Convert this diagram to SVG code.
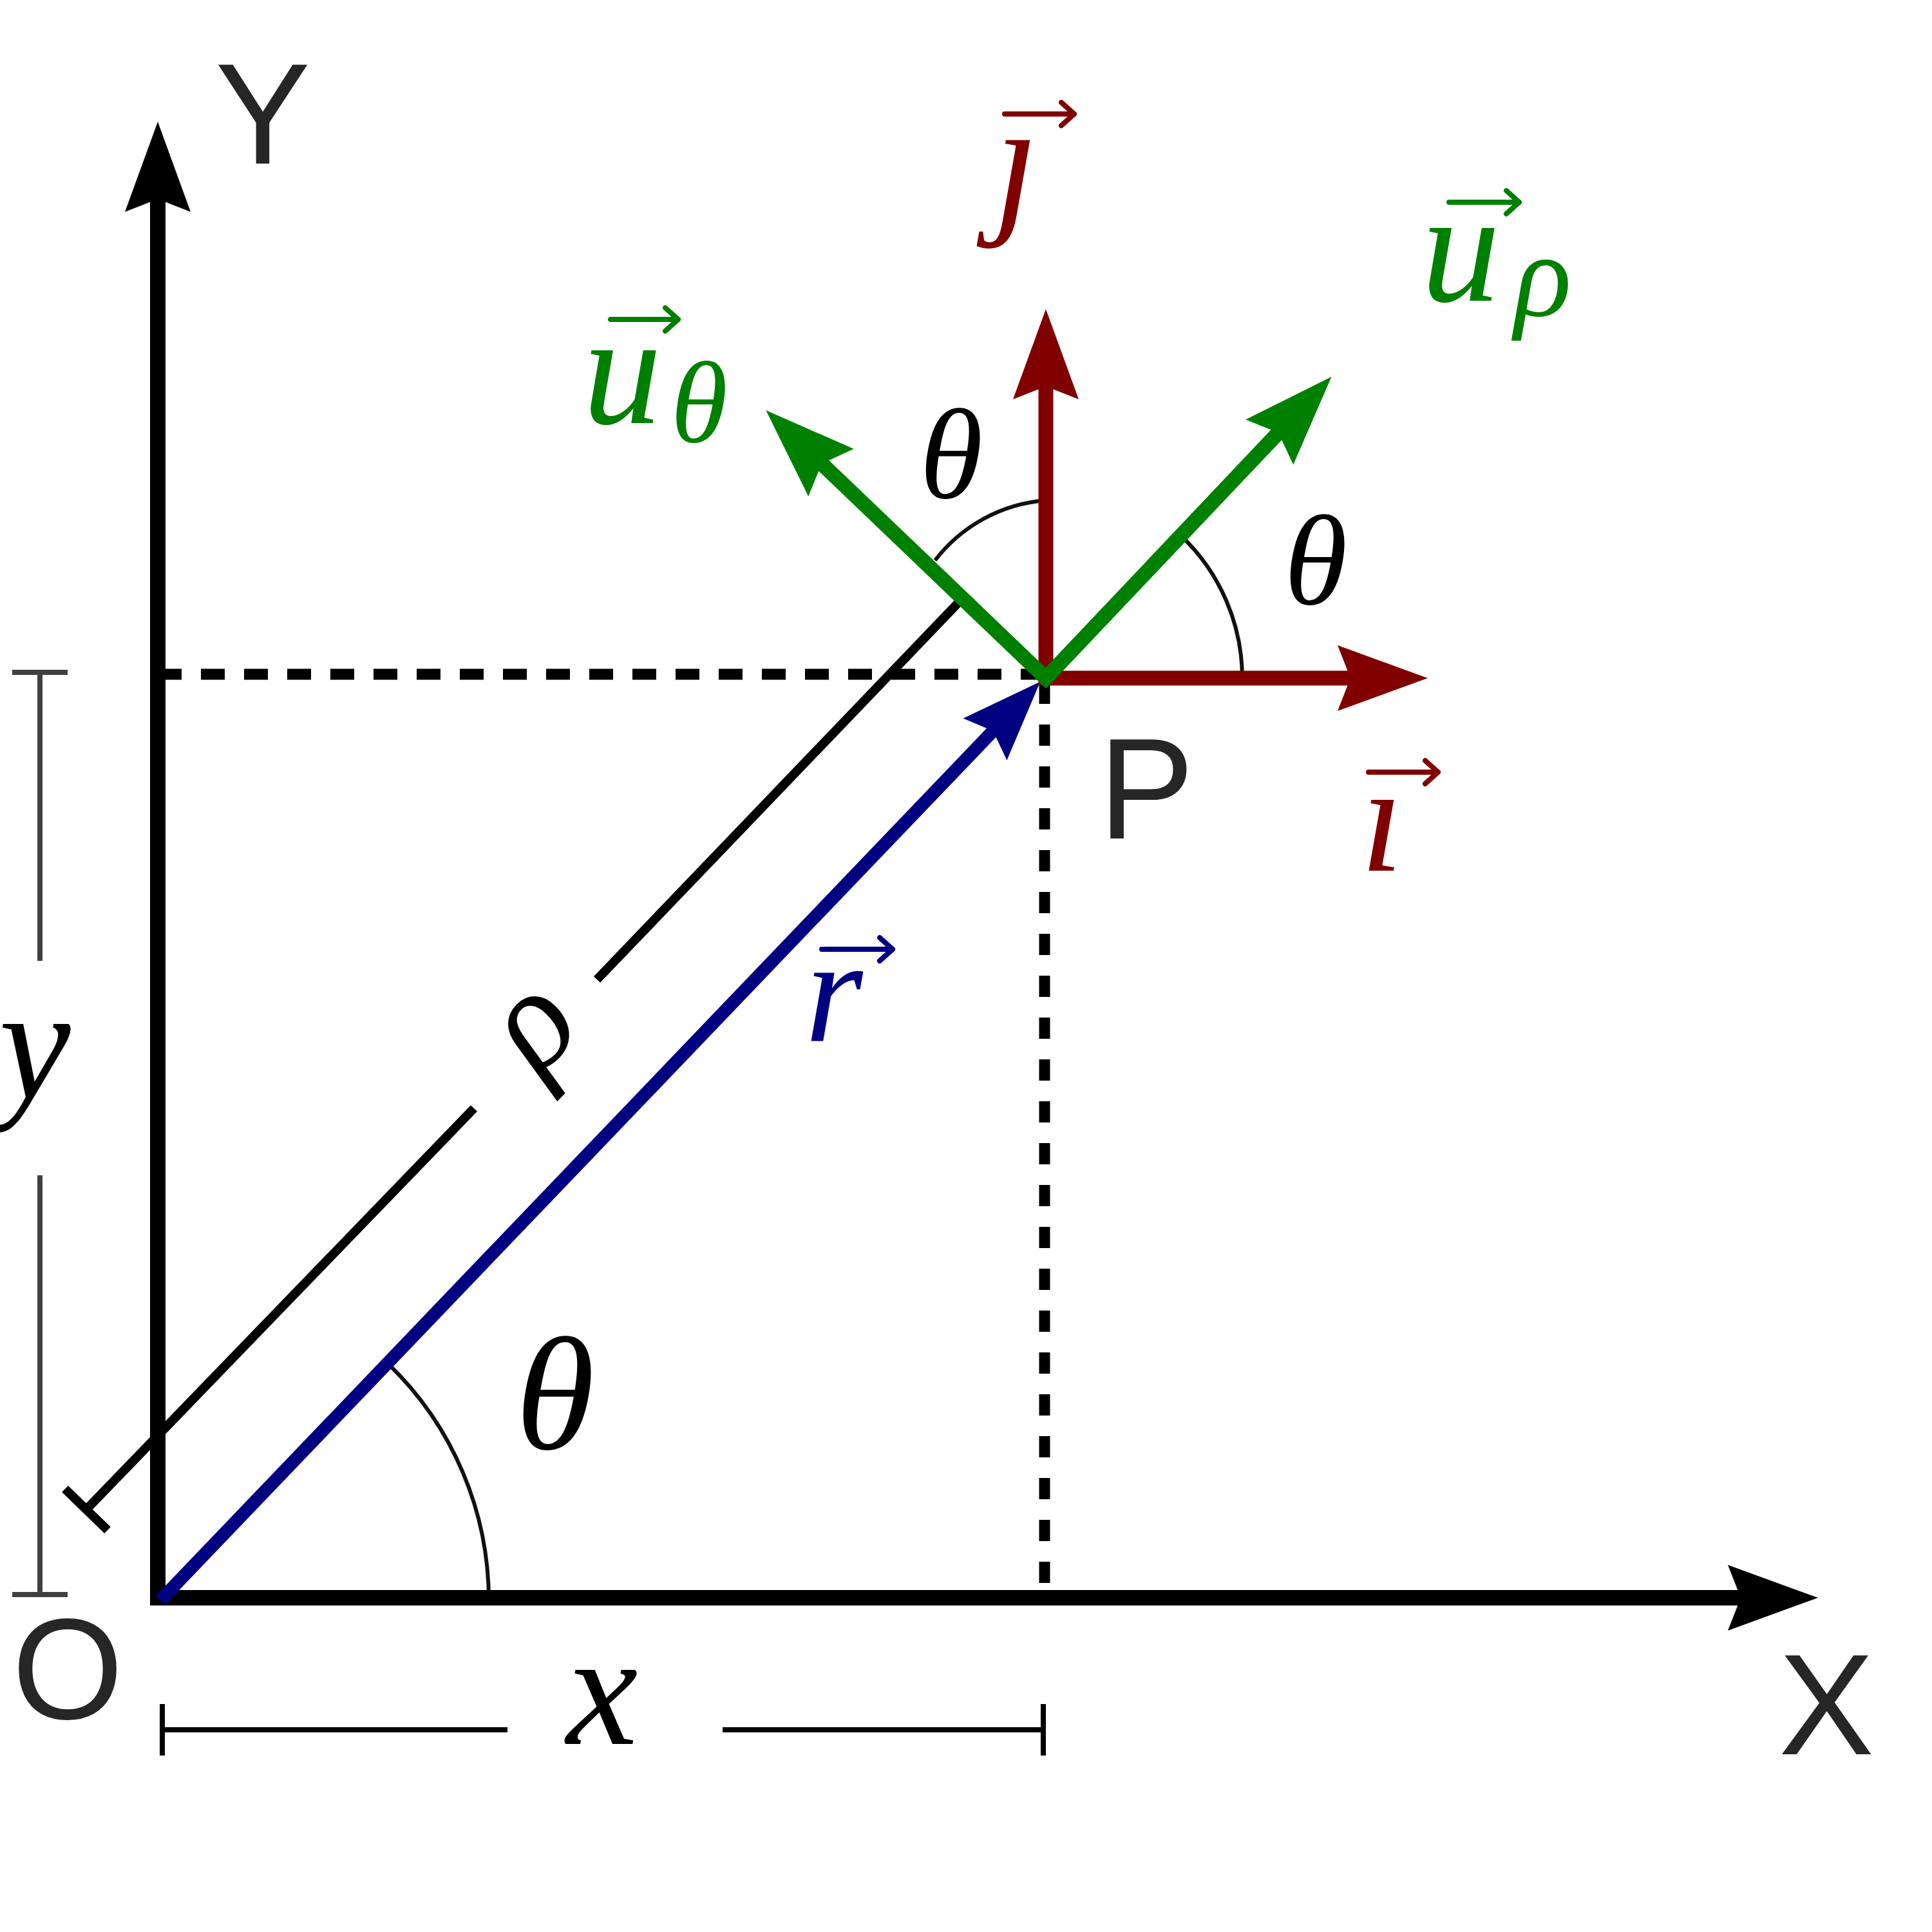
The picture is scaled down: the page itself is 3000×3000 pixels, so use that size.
<svg xmlns="http://www.w3.org/2000/svg" width="3000" height="3000" viewBox="0 0 3000 3000">
<style>
.axis{stroke:#000;stroke-width:24;fill:none}
.dash{stroke:#000;stroke-width:17;fill:none}
.dim{stroke:#000;stroke-width:8;fill:none}
.dimy{stroke:#404040;stroke-width:8;fill:none}
.rho{stroke:#000;stroke-width:14;fill:none}
.arc{stroke:#111;stroke-width:6;fill:none}
.red{stroke:#800000;stroke-width:23;fill:none;stroke-linejoin:miter}
.green{stroke:#008000;stroke-width:23;fill:none;stroke-linejoin:miter;stroke-miterlimit:10}
.blue{stroke:#000080;stroke-width:20;fill:none}
.vec{stroke-width:8;fill:none;stroke-linecap:round;stroke-linejoin:round}
.lbl{font-family:"Liberation Sans",Arial,sans-serif;font-size:222px;fill:#262626}
.m{font-family:"Liberation Serif","DejaVu Serif",serif;font-style:italic}
</style>
<defs>
<marker id="ahK" markerUnits="userSpaceOnUse" orient="auto-start-reverse" refX="0" refY="0" markerWidth="10" markerHeight="10" overflow="visible"><path d="M0,0 L-20,-51 L120,0 L-20,51 Z" fill="#000"/></marker>
<marker id="ahR" markerUnits="userSpaceOnUse" orient="auto-start-reverse" refX="0" refY="0" markerWidth="10" markerHeight="10" overflow="visible"><path d="M0,0 L-20,-51 L120,0 L-20,51 Z" fill="#800000"/></marker>
<marker id="ahG" markerUnits="userSpaceOnUse" orient="auto-start-reverse" refX="0" refY="0" markerWidth="10" markerHeight="10" overflow="visible"><path d="M0,0 L-20,-51 L120,0 L-20,51 Z" fill="#008000"/></marker>
<marker id="ahB" markerUnits="userSpaceOnUse" orient="auto-start-reverse" refX="0" refY="0" markerWidth="10" markerHeight="10" overflow="visible"><path d="M0,0 L-18,-47 L106,0 L-18,47 Z" fill="#000080"/></marker>
</defs>
<rect width="3000" height="3000" fill="#fff"/>

<g id="connectors">
  <!-- dashed projections -->
  <line class="dash" x1="245" y1="1047" x2="1624" y2="1047" stroke-dasharray="37 30"/>
  <line class="dash" x1="1622" y1="1060" x2="1622" y2="2481" stroke-dasharray="33 32"/>
  <!-- angle arcs -->
  <path class="arc" d="M759,2485 A510,510 0 0 0 603,2118"/>
  <path class="arc" d="M1929,1053 A305,305 0 0 0 1834,832"/>
  <path class="arc" d="M1624,777 A240,240 0 0 0 1452,870"/>
  <!-- dimension lines -->
  <g id="dim-y">
    <path class="dimy" d="M62,1044 V1492 M62,1825 V2476 M19,1044 H105 M19,2476 H105"/>
  </g>
  <g id="dim-x">
    <path class="dim" d="M252,2686 H788 M1122,2686 H1620 M252,2646 V2726 M1620,2646 V2726"/>
  </g>
  <g id="dim-rho">
    <path class="rho" d="M134,2344 L736,1721 M927,1521 L1487,937 M101,2312 L167,2376"/>
  </g>
  <!-- axes -->
  <line class="axis" x1="245" y1="2493" x2="245" y2="309" marker-end="url(#ahK)"/>
  <line class="axis" x1="233" y1="2481" x2="2703" y2="2481" marker-end="url(#ahK)"/>
  <!-- position vector r -->
  <line class="blue" x1="249" y1="2485" x2="1542" y2="1135" marker-end="url(#ahB)"/>
  <!-- cartesian unit vectors i, j -->
  <polyline class="red" points="1624,600 1624,1053 2097,1053" marker-start="url(#ahR)" marker-end="url(#ahR)"/>
  <!-- polar unit vectors -->
  <polyline class="green" points="1276,720 1624,1053 1985,672" marker-start="url(#ahG)" marker-end="url(#ahG)"/>
</g>

<g id="node-Y"><text class="lbl" x="408" y="254" text-anchor="middle">Y</text></g>
<g id="node-X"><text class="lbl" x="2836" y="2724" text-anchor="middle">X</text></g>
<g id="node-O"><text class="lbl" x="105" y="2669" text-anchor="middle">O</text></g>
<g id="node-P"><text class="lbl" x="1706" y="1302">P</text></g>

<g id="label-theta-origin"><text class="m" x="862" y="2250" font-size="250" text-anchor="middle">θ</text></g>
<g id="label-theta-right"><text class="m" x="2043" y="938" font-size="200" text-anchor="middle">θ</text></g>
<g id="label-theta-up"><text class="m" x="1477" y="773" font-size="200" text-anchor="middle">θ</text></g>
<g id="label-x"><text class="m" x="935" y="2708" font-size="250" text-anchor="middle">x</text></g>
<g id="label-y"><text class="m" x="54" y="1705" font-size="250" text-anchor="middle">y</text></g>
<g id="label-rho"><text class="m" x="855" y="1643" font-size="220" text-anchor="middle" transform="rotate(-46 855 1619)">ρ</text></g>

<g id="label-r">
  <text class="m" x="1295" y="1617" font-size="230" text-anchor="middle" fill="#000080">r</text>
  <path class="vec" stroke="#000080" d="M1276,1474 H1386 M1366,1456 L1386,1474 L1366,1492"/>
</g>
<g id="label-i">
  <text class="m" x="2146" y="1352" font-size="240" text-anchor="middle" fill="#800000">ı</text>
  <path class="vec" stroke="#800000" d="M2125,1199 H2233 M2213,1181 L2233,1199 L2213,1217"/>
</g>
<g id="label-j">
  <text class="m" x="1578" y="333" font-size="250" text-anchor="middle" fill="#800000">ȷ</text>
  <path class="vec" stroke="#800000" d="M1560,177 H1668 M1648,159 L1668,177 L1648,195"/>
</g>
<g id="label-utheta">
  <text class="m" x="905" y="657" font-size="245" fill="#008000">u<tspan font-size="180" dx="14" dy="29">θ</tspan></text>
  <path class="vec" stroke="#008000" d="M948,496 H1053 M1033,478 L1053,496 L1033,514"/>
</g>
<g id="label-urho">
  <text class="m" x="2207" y="467" font-size="245" fill="#008000">u<tspan font-size="185" dx="22" dy="23">ρ</tspan></text>
  <path class="vec" stroke="#008000" d="M2250,314 H2359 M2339,296 L2359,314 L2339,332"/>
</g>
</svg>
